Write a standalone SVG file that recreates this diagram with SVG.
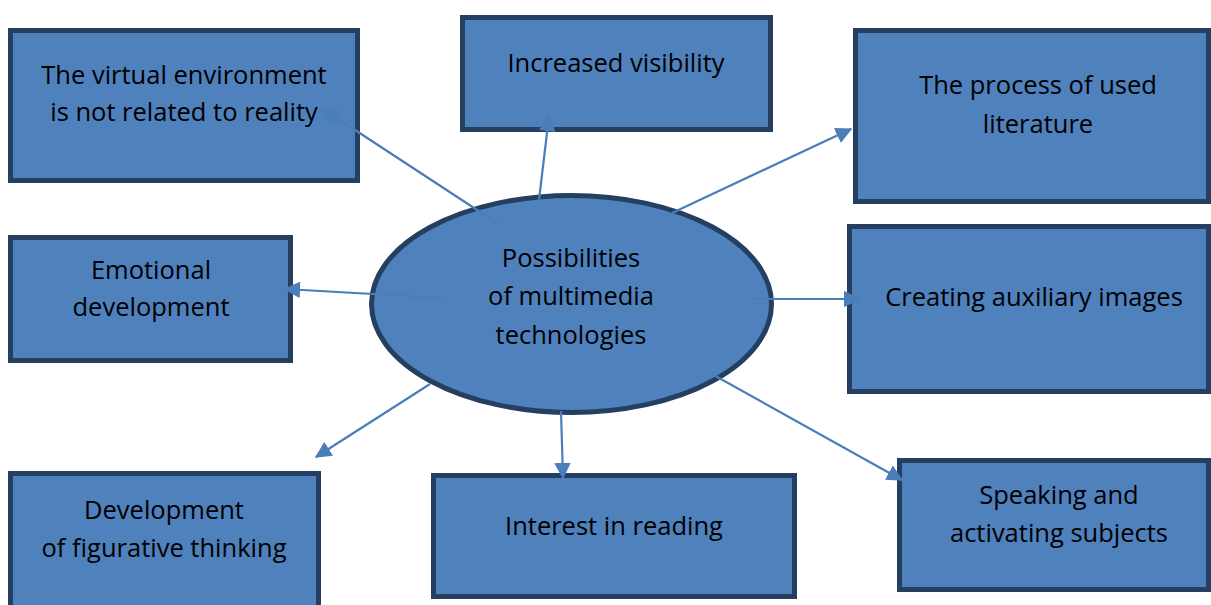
<svg xmlns="http://www.w3.org/2000/svg" width="1211" height="605" viewBox="0 0 1211 605">
<style>
.box{fill:#4F81BD;stroke:#243F60;stroke-width:5}
.lbl{font-family:"Open Sans","Liberation Sans",sans-serif;font-size:25.5px;fill:#000;text-anchor:middle}
.con{stroke:#4A7EBB;stroke-width:2.2;fill:none;marker-end:url(#ah)}
</style>
<defs>
<marker id="ah" viewBox="0 0 12 12" refX="11" refY="6" markerWidth="7.5" markerHeight="7.5" orient="auto" markerUnits="strokeWidth">
<path d="M0,0 L12,6 L0,12 Z" fill="#4A7EBB"/>
</marker>
</defs>
<rect width="1211" height="605" fill="#fff"/>
<g id="n1"><rect class="box" x="10.5" y="30.5" width="347" height="150"/>
<text class="lbl" x="184" y="84">The virtual environment</text><text class="lbl" x="184" y="121">is not related to reality</text></g>
<g id="n2"><rect class="box" x="462.5" y="17.5" width="308" height="112"/>
<text class="lbl" x="616" y="72">Increased visibility</text></g>
<g id="n3"><rect class="box" x="855.5" y="30.5" width="353" height="171"/>
<text class="lbl" x="1038" y="94">The process of used</text><text class="lbl" x="1038" y="133">literature</text></g>
<g id="n4"><rect class="box" x="10.5" y="237.5" width="280" height="123"/>
<text class="lbl" x="151" y="279">Emotional</text><text class="lbl" x="151" y="316">development</text></g>
<g id="n5"><rect class="box" x="849.5" y="226.5" width="359" height="165"/>
<text class="lbl" x="1034" y="306">Creating auxiliary images</text></g>
<g id="n6"><rect class="box" x="10.5" y="473.5" width="308" height="140"/>
<text class="lbl" x="164" y="519">Development</text><text class="lbl" x="164" y="557">of figurative thinking</text></g>
<g id="n7"><rect class="box" x="433.5" y="475.5" width="361" height="121"/>
<text class="lbl" x="614" y="535">Interest in reading</text></g>
<g id="n8"><rect class="box" x="899.5" y="460.5" width="309" height="129"/>
<text class="lbl" x="1059" y="504">Speaking and</text><text class="lbl" x="1059" y="542">activating subjects</text></g>
<g id="center"><ellipse class="box" cx="571.5" cy="304" rx="200" ry="108.5"/>
<text class="lbl" x="571" y="267">Possibilities</text><text class="lbl" x="571" y="305">of multimedia</text><text class="lbl" x="571" y="344">technologies</text></g>
<g id="connectors">
<line class="con" x1="500" y1="225" x2="323" y2="109"/>
<line class="con" x1="539" y1="200" x2="549" y2="116"/>
<line class="con" x1="672" y1="213" x2="851" y2="129"/>
<line class="con" x1="443" y1="298" x2="285" y2="289"/>
<line class="con" x1="753" y1="299" x2="859" y2="299"/>
<line class="con" x1="430" y1="384" x2="316" y2="457"/>
<line class="con" x1="561" y1="411" x2="563" y2="478"/>
<line class="con" x1="710" y1="373" x2="902" y2="480"/>
</g>
</svg>
